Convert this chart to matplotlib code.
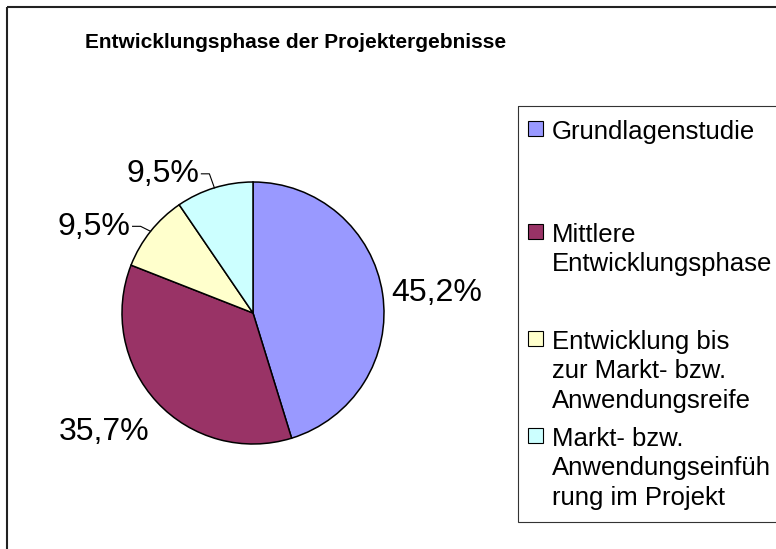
import math
import matplotlib.pyplot as plt
from matplotlib.patches import Rectangle

plt.rcParams['font.family'] = ['Liberation Sans', 'DejaVu Sans']

# Daten (42 Projekte)
title = 'Entwicklungsphase der Projektergebnisse'
categories = ['Grundlagenstudie',
              'Mittlere\nEntwicklungsphase',
              'Entwicklung bis\nzur Markt- bzw.\nAnwendungsreife',
              'Markt- bzw.\nAnwendungseinfüh\nrung im Projekt']
counts = [19, 15, 4, 4]
colors = ['#9999FF', '#993366', '#FFFFCC', '#CCFFFF']

W, H = 776, 549
fig = plt.figure(figsize=(W / 100, H / 100), dpi=100)

# Hintergrund-Achse in Pixelkoordinaten (Rahmen, Titel, Legende)
bg = fig.add_axes([0, 0, 1, 1])
bg.set_xlim(0, W)
bg.set_ylim(H, 0)
bg.axis('off')
bg.add_patch(Rectangle((6.5, 6.5), W, H, fill=False, lw=1.5, ec='#222222'))
bg.text(296, 43, title, ha='center', va='center', fontsize=15, fontweight='bold')

# Kreisdiagramm
cx, cy, R = 253, 313, 131
ax = fig.add_axes([(cx - R) / W, (H - cy - R) / H, 2 * R / W, 2 * R / H])
wedges, _ = ax.pie(counts, colors=colors, startangle=90, counterclock=False,
                   radius=1, wedgeprops=dict(edgecolor='black', linewidth=1.1))
ax.set_xlim(-1, 1)
ax.set_ylim(-1, 1)

total = sum(counts)
# Beschriftungs-Versatz in Pixeln (x, y nach oben) relativ zum Randpunkt
label_off = [(54, 0), (-53, -30), (-20, 4), (-15, 14)]
label_ha = ['center', 'center', 'right', 'right']
leaders = {2: [(-10, 5), (-18, 5)], 3: [(-5, 14), (-13, 14)]}

for i, w in enumerate(wedges):
    a = math.radians((w.theta1 + w.theta2) / 2)
    ex, ey = math.cos(a), math.sin(a)
    pct = f"{counts[i] / total * 100:.1f}%".replace('.', ',')
    dx, dy = label_off[i]
    ax.text(ex + dx / R, ey + dy / R, pct, ha=label_ha[i], va='center', fontsize=23)
    if i in leaders:
        xs = [ex] + [ex + p[0] / R for p in leaders[i]]
        ys = [ey] + [ey + p[1] / R for p in leaders[i]]
        ax.plot(xs, ys, color='black', lw=0.8, clip_on=False)

# Legende
bg.add_patch(Rectangle((517.5, 105.5), 400, 416.5, fill=False, lw=0.8, ec='#333333'))
entry_tops = [120, 223, 330, 427]
for lab, col, top in zip(categories, colors, entry_tops):
    bg.add_patch(Rectangle((527.5, top + 1), 15, 15, fc=col, ec='black', lw=0.8))
    bg.text(552, top, lab, ha='left', va='top', fontsize=18.5, linespacing=1.28)

fig.savefig('out.png', dpi=100)
